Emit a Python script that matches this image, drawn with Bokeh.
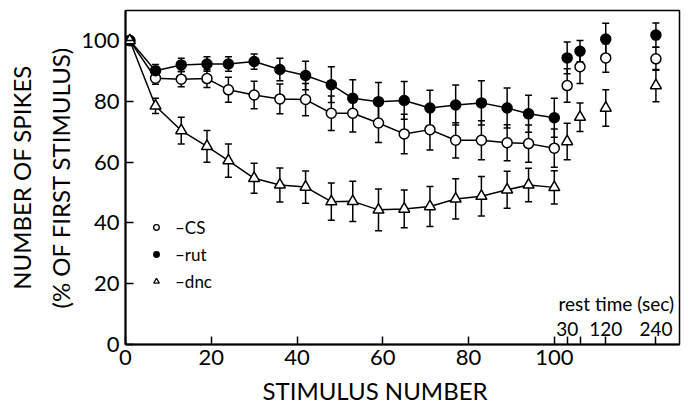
import numpy as np
from bokeh.plotting import figure
from bokeh.models import (ColumnDataSource, Whisker, TeeHead, FixedTicker, Range1d,
                          Label, Legend, LegendItem, Title)
from bokeh.embed import file_html
from bokeh.resources import INLINE
from bokeh.core.properties import value

# ---- data ----
stim = [1, 7, 13, 19, 24, 30, 36, 42, 48, 53, 59, 65, 71, 77, 83, 89, 94, 100]
cs = [100, 87.6, 87.3, 87.5, 83.8, 82.1, 80.8, 80.6, 76.1, 76.1, 72.9, 69.3, 70.7, 67.2, 67.2, 66.4, 66.1, 64.6]
cs_err = [0, 2.0, 2.5, 2.9, 4.1, 4.5, 4.9, 5.3, 5.7, 6.2, 6.4, 6.5, 6.7, 5.8, 6.4, 5.9, 6.1, 6.3]
rut = [100, 90.1, 92.0, 92.3, 92.3, 93.1, 90.5, 88.5, 85.5, 81.0, 79.9, 80.3, 77.8, 78.8, 79.5, 77.8, 75.9, 74.6]
rut_err = [0, 2.0, 2.2, 2.4, 2.4, 2.5, 3.7, 4.7, 5.9, 6.1, 6.3, 6.2, 5.9, 6.6, 7.3, 6.6, 6.1, 6.4]
dnc = [100, 78.5, 70.4, 65.2, 60.5, 54.7, 52.5, 51.8, 47.0, 47.1, 44.3, 44.6, 45.4, 47.9, 48.8, 50.9, 52.5, 51.7]
dnc_err = [0, 2.5, 4.4, 5.2, 5.5, 4.9, 5.6, 5.3, 6.1, 6.6, 6.9, 6.2, 6.6, 6.6, 6.5, 6.1, 5.5, 5.5]

# recovery after rest (30, 60, 120, 240 s)
rest_x = [103, 106, 112, 123.7]
cs_rest = [85.2, 91.4, 94.3, 94.0]
cs_rest_err = [5.5, 5.5, 4.7, 3.8]
rut_rest = [94.3, 96.5, 100.5, 101.8]
rut_rest_err = [5.2, 3.5, 5.2, 4.0]
dnc_rest = [66.8, 74.8, 77.8, 85.2]
dnc_rest_err = [6.0, 4.7, 6.0, 5.3]

x_ticks = [0, 20, 40, 60, 80, 100]
y_ticks = [0, 20, 40, 60, 80, 100]
rest_label_x = [103, 112, 123.7]
rest_labels = ["30", "120", "240"]

FONT = "Lato"

p = figure(width=689, height=413, output_backend="svg", toolbar_location=None,
           x_range=Range1d(0, 129.2), y_range=Range1d(0, 109.9),
           min_border_left=123, min_border_right=10, min_border_top=10, min_border_bottom=69)
p.background_fill_color = "white"
p.border_fill_color = "white"
p.outline_line_color = "black"
p.outline_line_width = 1.5
p.grid.visible = False

# axes
xa = p.xaxis[0]
xa.ticker = FixedTicker(ticks=x_ticks + rest_x, minor_ticks=[])
xa.major_label_overrides = {v: "" for v in rest_x}
ya = p.yaxis[0]
ya.ticker = FixedTicker(ticks=y_ticks, minor_ticks=[])
for ax in (xa, ya):
    ax.axis_line_width = 2
    ax.axis_line_color = "black"
    ax.major_tick_in = 8
    ax.major_tick_out = 0
    ax.major_tick_line_width = 1.5
    ax.minor_tick_line_color = None
    ax.major_label_text_font = FONT
    ax.major_label_text_font_size = "22px"
    ax.major_label_text_color = "black"
xa.major_label_standoff = 5
ya.major_label_standoff = 6

# axis titles
p.add_layout(Title(text="STIMULUS NUMBER", align="left", offset=137, standoff=13,
                   text_font=FONT, text_font_size="24px", text_font_style="normal",
                   text_color="black"), "below")
p.add_layout(Title(text="(% OF FIRST STIMULUS)", align="center", offset=0, standoff=8,
                   text_font=FONT, text_font_size="24px", text_font_style="normal",
                   text_color="black"), "left")
p.add_layout(Title(text="NUMBER OF SPIKES", align="center", offset=0, standoff=8,
                   text_font=FONT, text_font_size="24px", text_font_style="normal",
                   text_color="black"), "left")


def add_series(xs, ys, errs, marker, fill, connect):
    keep = [i for i in range(len(xs)) if errs[i] > 0]
    src = ColumnDataSource(dict(
        x=[xs[i] for i in keep],
        lo=[ys[i] - errs[i] for i in keep],
        hi=[ys[i] + errs[i] for i in keep]))
    w = Whisker(source=src, base="x", lower="lo", upper="hi", line_color="black",
                line_width=1.5,
                lower_head=TeeHead(size=7, line_width=1.5, line_color="black"),
                upper_head=TeeHead(size=7, line_width=1.5, line_color="black"))
    p.add_layout(w)
    if connect:
        p.line(xs, ys, line_color="black", line_width=1.5)
    p.scatter(xs, ys, marker=marker, size=10 if marker == "circle" else 11,
              fill_color=fill, line_color="black", line_width=1.5)


add_series(stim, cs, cs_err, "circle", "white", True)
add_series(stim, rut, rut_err, "circle", "black", True)
add_series(stim, dnc, dnc_err, "triangle", "white", True)
add_series(rest_x, cs_rest, cs_rest_err, "circle", "white", False)
add_series(rest_x, rut_rest, rut_rest_err, "circle", "black", False)
add_series(rest_x, dnc_rest, dnc_rest_err, "triangle", "white", False)

# legend with small markers (hidden proxy renderers)
lg_cs = p.scatter(stim[:1], cs[:1], marker="circle", size=7, fill_color="white",
                  line_color="black", line_width=1.3, visible=False)
lg_rut = p.scatter(stim[:1], rut[:1], marker="circle", size=7, fill_color="black",
                   line_color="black", line_width=1.3, visible=False)
lg_dnc = p.scatter(stim[:1], dnc[:1], marker="triangle", size=8, fill_color="white",
                   line_color="black", line_width=1.3, visible=False)
legend = Legend(items=[LegendItem(label="\u2013CS", renderers=[lg_cs]),
                       LegendItem(label="\u2013rut", renderers=[lg_rut]),
                       LegendItem(label="\u2013dnc", renderers=[lg_dnc])],
                location=(24, 52), glyph_width=14, glyph_height=22, label_height=22,
                label_standoff=12, spacing=5, padding=0, margin=0,
                border_line_color=None, background_fill_alpha=0,
                inactive_fill_alpha=0,
                label_text_font=FONT, label_text_font_size="17px", label_text_color="black")
p.add_layout(legend, "center")

# rest time labels
p.text(x=rest_label_x, y=[0] * len(rest_label_x), text=rest_labels, y_offset=-16,
       text_align="center", text_baseline="alphabetic", text_font=value(FONT),
       text_font_size="19px", text_color="black")
p.add_layout(Label(x=433, y=41, x_units="screen", y_units="screen", text="rest time (sec)",
                   text_font=FONT, text_font_size="19px", text_align="left",
                   text_baseline="alphabetic", text_color="black"))

open("out.html", "w").write(file_html(p, INLINE))
